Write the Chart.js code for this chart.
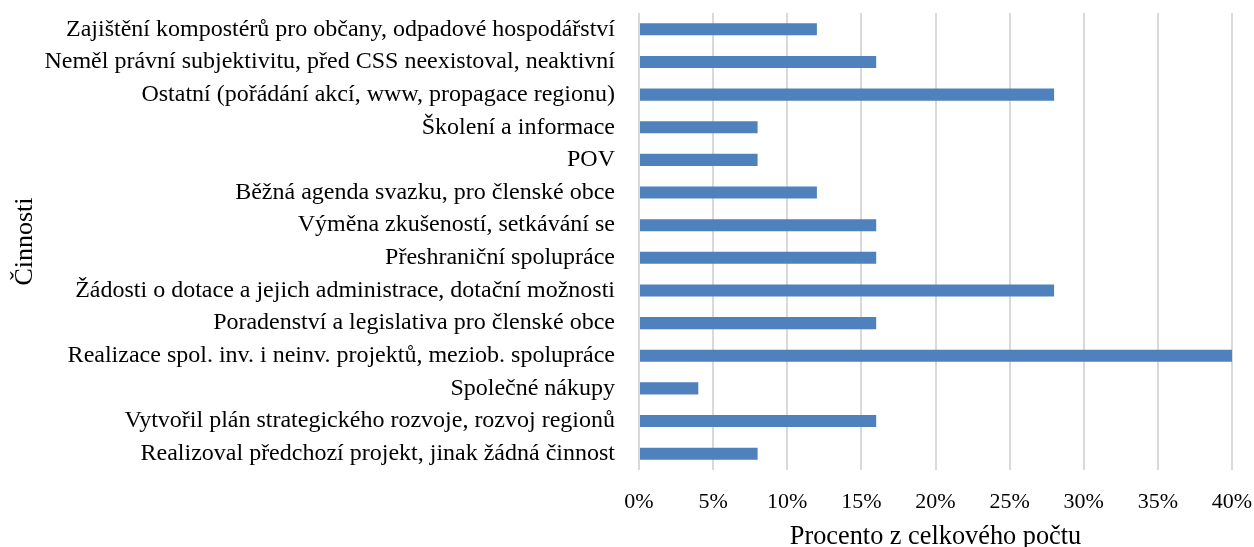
<!DOCTYPE html>
<html>
<head>
<meta charset="utf-8">
<script src="https://cdn.jsdelivr.net/npm/chart.js@4/dist/chart.umd.min.js"></script>
<style>
html,body{margin:0;padding:0;background:#fff;}
#wrap{width:1254px;height:547px;}
</style>
</head>
<body>
<div id="wrap"><canvas id="c" width="1254" height="547"></canvas></div>
<script>
const categories = [
  "Zajištění kompostérů pro občany, odpadové hospodářství",
  "Neměl právní subjektivitu, před CSS neexistoval, neaktivní",
  "Ostatní (pořádání akcí, www, propagace regionu)",
  "Školení a informace",
  "POV",
  "Běžná agenda svazku, pro členské obce",
  "Výměna zkušeností, setkávání se",
  "Přeshraniční spolupráce",
  "Žádosti o dotace a jejich administrace, dotační možnosti",
  "Poradenství a legislativa pro členské obce",
  "Realizace spol. inv. i neinv. projektů, meziob. spolupráce",
  "Společné nákupy",
  "Vytvořil plán strategického rozvoje, rozvoj regionů",
  "Realizoval předchozí projekt, jinak žádná činnost"
];
const percentValues = [12, 16, 28, 8, 8, 12, 16, 16, 28, 16, 40, 4, 16, 8];
const xAxisTitle = "Procento z celkového počtu";
const yAxisTitle = "Činnosti";

const FONT = "'Liberation Serif', 'Times New Roman', serif";

function zeroPad(s) { s.paddingTop = 0; s.paddingBottom = 0; s.paddingLeft = 0; s.paddingRight = 0; }

new Chart(document.getElementById('c'), {
  type: 'bar',
  data: {
    labels: categories,
    datasets: [{
      data: percentValues,
      backgroundColor: '#4f81bd',
      borderWidth: 0,
      barPercentage: 0.37,
      categoryPercentage: 1.0
    }]
  },
  options: {
    indexAxis: 'y',
    responsive: false,
    animation: false,
    layout: { padding: { left: 0, right: 22, top: 13, bottom: 0 } },
    plugins: { legend: { display: false }, tooltip: { enabled: false } },
    scales: {
      x: {
        min: 0, max: 40,
        ticks: {
          stepSize: 5,
          callback: v => v + '%',
          color: '#000',
          font: { family: FONT, size: 22 },
          padding: 19
        },
        grid: { color: '#d9d9d9', lineWidth: 2, drawTicks: false },
        border: { display: false },
        title: {
          display: true, text: xAxisTitle, color: '#000',
          font: { family: FONT, size: 26.3, lineHeight: 1 },
          padding: { top: 4, bottom: -3 }
        },
        afterFit: s => { s.height = 77; zeroPad(s); }
      },
      y: {
        ticks: {
          color: '#000',
          font: { family: FONT, size: 24 },
          padding: 24,
          autoSkip: false
        },
        grid: { display: false, drawTicks: false },
        border: { display: false },
        title: {
          display: true, text: yAxisTitle, color: '#000',
          font: { family: FONT, size: 26, lineHeight: 1 },
          padding: { top: 12, bottom: 0 }
        },
        afterFit: s => { s.width = 639; zeroPad(s); }
      }
    }
  }
});
</script>
</body>
</html>
